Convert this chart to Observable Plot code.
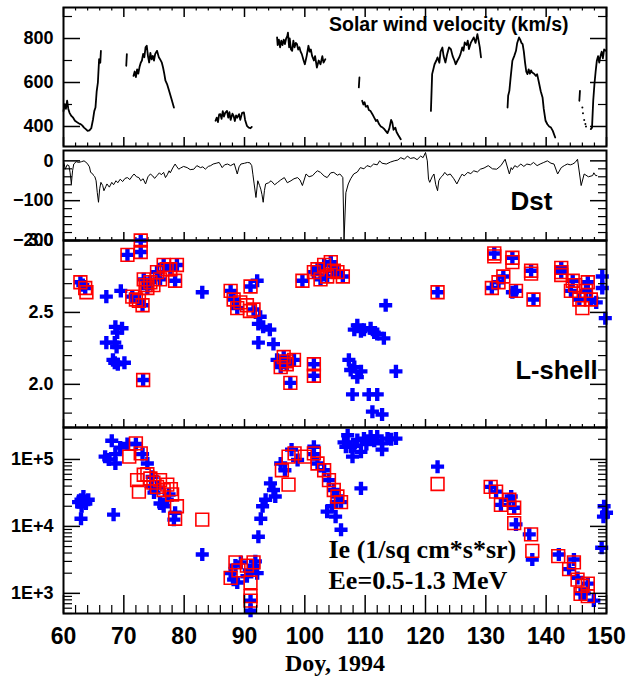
<!DOCTYPE html>
<html><head><meta charset="utf-8">
<script src="https://cdn.jsdelivr.net/npm/d3@7"></script>
<script src="https://cdn.jsdelivr.net/npm/@observablehq/plot@0.6"></script>
<style>
body{margin:0;background:#fff}
#chart{position:relative;width:627px;height:679px;background:#fff}
.panel{position:absolute;left:0}
</style>
</head><body><div id="chart"></div>
<script>
// ---------- data ----------
const xTickLabels = [60,70,80,90,100,110,120,130,140,150];

// Solar wind velocity (NaN = data gap)
const swDay = [60.0,60.2,60.4,60.6,60.8,61.0,61.3,61.6,61.9,62.2,62.5,62.8,63.1,63.4,63.7,64.0,64.3,64.6,64.9,65.1,65.3,65.5,65.7,65.9,66.1,66.2,
  66.3,
  70.4,70.5,
  70.6,
  71.6,71.8,72.0,72.2,72.4,72.6,72.8,73.0,73.2,73.4,73.6,73.8,74.0,74.2,74.4,74.6,74.8,75.0,75.2,75.5,75.8,76.0,76.3,76.5,76.7,76.9,77.2,77.5,77.9,78.3,
  78.4,
  85.2,85.4,85.6,85.8,86.0,86.2,86.4,86.6,86.8,87.1,87.3,87.5,87.7,88.0,88.2,88.4,88.6,88.8,89.1,89.3,89.6,89.9,90.1,90.4,90.7,91.0,91.2,
  91.3,
  95.4,95.5,95.7,95.9,96.1,96.3,96.5,96.7,96.9,97.1,97.2,97.4,97.5,97.7,97.9,98.1,98.3,98.5,98.7,98.9,99.1,99.3,99.5,99.8,100.0,100.3,100.6,100.8,101.0,101.2,101.5,101.7,102.0,102.3,102.6,102.9,103.1,103.4,
  103.5,
  108.95,109.05,
  109.1,
  109.5,109.7,109.9,110.1,110.4,110.6,110.9,111.2,111.5,111.8,112.0,112.3,112.6,112.9,113.1,113.4,113.7,114.0,114.3,114.5,114.7,115.0,115.2,115.5,115.9,
  116.0,
  120.9,121.1,121.3,121.5,121.8,122.0,122.3,122.5,122.8,123.0,123.3,123.6,123.9,124.2,124.5,124.8,125.0,125.3,125.6,125.8,126.1,126.3,126.5,126.8,127.0,127.2,127.5,127.8,128.0,128.3,128.6,128.8,129.0,129.2,
  129.3,
  133.6,133.7,133.9,134.1,134.4,134.7,135.0,135.2,135.5,135.7,135.9,136.1,136.3,136.5,136.7,136.9,137.1,137.3,137.5,137.7,138.0,138.3,138.5,138.8,139.1,139.4,139.6,139.9,140.2,140.5,140.8,141.1,141.5,
  141.6,
  145.5,145.6,
  145.7,
  147.4,147.6,147.8,148.0,148.2,148.4,148.6,148.8,149.0,149.2,149.4,149.6,149.9];
const swVel = [470,502,480,517,480,462,448,440,426,420,415,411,405,395,388,380,382,392,433,470,486,560,600,706,690,744,
  NaN,
  676,729,
  NaN,
  630,650,625,660,640,670,690,700,730,715,760,767,720,691,735,705,721,700,730,744,715,706,690,668,640,608,590,562,525,486,
  NaN,
  426,440,420,455,456,435,470,445,462,471,440,465,430,458,448,425,450,440,456,430,462,464,430,403,395,392,398,
  NaN,
  805,770,795,760,790,770,795,775,800,812,827,760,800,750,744,790,760,780,774,750,760,740,729,700,683,720,767,740,750,721,700,720,668,700,683,720,690,706,
  NaN,
  578,623,
  NaN,
  517,500,510,490,494,475,470,456,440,425,430,411,400,395,390,380,370,390,430,418,385,395,375,360,342,
  NaN,
  471,638,660,683,700,714,690,740,759,720,691,730,760,752,720,700,683,700,715,729,760,745,782,770,790,752,780,795,805,780,820,790,760,714,
  NaN,
  486,540,562,620,699,720,744,780,805,795,780,774,740,690,650,638,660,640,655,645,640,630,638,600,560,532,480,426,410,400,395,380,350,
  NaN,
  517,562,
  NaN,
  388,395,517,592,650,699,720,690,721,740,710,750,744];
// isolated velocity samples
const swDotDay = [146.0,146.1,146.3,146.5,146.6];
const swDotVel = [486,460,430,411,400];

// Dst index
const dstDay = [60.0,60.3,60.6,60.9,61.1,61.3,61.5,61.7,62.1,62.5,63.0,63.4,63.7,64.0,64.3,64.5,64.8,65.0,65.2,65.4,65.6,65.8,66.0,66.2,66.5,66.7,67.0,67.2,67.6,68.0,68.3,68.7,69.0,69.4,69.8,70.2,70.6,71.0,71.4,71.7,72.1,72.5,72.8,73.2,73.6,74.0,74.4,74.8,75.1,75.5,75.9,76.2,76.6,76.9,77.2,77.5,77.7,78.1,78.5,78.8,79.1,79.4,79.9,80.5,81.0,81.6,82.1,82.7,83.1,83.5,84.0,84.4,84.8,85.3,85.8,86.3,86.7,87.2,87.7,88.3,88.8,89.1,89.4,90.0,90.5,90.9,91.2,91.4,91.6,91.9,92.2,92.5,92.7,92.9,93.1,93.3,93.5,94.0,94.4,95.0,95.5,96.0,96.6,97.1,97.7,98.2,98.8,99.2,99.6,100.2,100.7,101.3,101.7,102.1,102.6,103.2,103.7,104.3,104.8,105.4,105.8,106.1,106.3,106.5,106.8,107.2,107.6,108.1,108.7,109.2,109.8,110.3,110.9,111.4,112.0,112.4,112.8,113.5,114.2,114.8,115.4,115.9,116.5,117.0,117.5,118.1,118.6,119.2,119.6,120.0,120.3,120.5,120.7,121.1,121.4,121.7,122.0,122.2,122.5,122.8,123.2,123.6,124.1,124.7,125.2,125.8,126.1,126.4,127.0,127.5,128.0,128.6,129.1,129.7,130.4,131.1,131.8,132.5,133.2,133.9,134.2,134.4,134.8,135.2,135.8,136.3,136.8,137.4,137.9,138.5,139.0,139.6,140.2,140.8,141.3,141.9,142.5,143.0,143.5,144.0,144.4,144.8,145.2,145.8,146.3,147.0,147.7,147.9,148.2,148.4,148.8,149.1,149.5,149.9];
const dstVal = [0,-21,-10,-12,-30,-58,-25,-8,-2,-4,-2,0,-3,-8,-15,-29,-32,-37,-40,-50,-80,-104,-70,-54,-62,-75,-65,-58,-66,-54,-60,-50,-55,-46,-52,-44,-42,-47,-38,-33,-40,-42,-50,-45,-58,-40,-33,-38,-44,-37,-30,-35,-29,-42,-35,-25,-30,-18,-8,-15,-21,-18,-14,-17,-22,-21,-12,-17,-15,-21,-14,-12,-8,-6,-4,-17,-10,-8,-12,-7,-33,-15,-8,-6,-4,-5,-12,-35,-58,-92,-50,-62,-71,-85,-104,-75,-58,-55,-50,-60,-54,-48,-42,-55,-50,-45,-42,-48,-62,-33,-40,-37,-30,-25,-29,-38,-42,-30,-29,-36,-33,-38,-42,-198,-80,-58,-45,-33,-28,-17,-20,-12,-15,-8,-10,0,-6,-8,-3,0,2,8,4,12,6,8,3,12,8,21,0,-46,-54,-40,-33,-60,-75,-50,-42,-38,-29,-36,-33,-45,-58,-40,-33,-38,-29,-32,-25,-28,-21,-18,-12,-20,-21,-12,4,-33,-17,-22,-12,-16,-8,-14,-8,-10,-4,-12,-8,-4,0,-6,-8,-33,-17,-12,-8,-10,-8,-4,4,-62,-33,-40,-37,-30,-37,-37];

// L-shell: blue = all samples, red = samples also in flux set
const lBlueDay = [62.8,63.2,63.6,67.1,69.5,68.6,69.7,68.9,67.1,68.5,68.8,68.2,68.5,70.1,69.0,73.2,70.6,72.8,72.8,71.4,72.5,73.1,73.3,74.4,75.5,76.6,77.7,78.8,78.5,73.9,76.0,83.0,87.7,88.2,88.8,91.0,92.1,91.5,92.6,92.3,93.1,94.2,92.3,94.8,95.4,96.5,97.0,98.2,97.6,96.0,99.6,101.5,101.5,101.5,102.1,103.2,104.3,105.4,106.3,102.6,104.8,103.7,113.4,108.7,109.8,110.9,112.0,113.1,108.2,109.3,111.5,107.3,108.2,109.3,108.7,107.6,115.1,107.9,110.6,112.0,111.2,112.8,122.0,131.4,134.4,132.9,131.0,132.1,135.0,137.5,137.9,142.5,142.5,144.4,144.1,146.9,146.6,145.5,147.4,149.3,149.3,149.8,148.3,134.4];
const lBlueVal = [2.71,2.69,2.67,2.61,2.65,2.40,2.39,2.36,2.29,2.29,2.26,2.17,2.15,2.15,2.14,2.03,2.90,3.00,2.92,2.61,2.58,2.55,2.73,2.71,2.78,2.83,2.80,2.83,2.72,2.67,2.73,2.64,2.65,2.59,2.53,2.68,2.72,2.52,2.47,2.42,2.40,2.38,2.29,2.28,2.17,2.19,2.14,2.17,2.01,2.12,2.72,2.14,2.06,2.78,2.80,2.83,2.85,2.78,2.75,2.73,2.79,2.75,2.55,2.41,2.38,2.39,2.35,2.32,2.38,2.37,2.36,2.17,2.12,2.09,2.05,2.10,2.09,1.93,1.93,1.93,1.81,1.79,2.64,2.91,2.88,2.75,2.67,2.71,2.65,2.79,2.59,2.81,2.78,2.72,2.65,2.71,2.65,2.59,2.59,2.75,2.67,2.46,2.57,2.64];
const lRedDay = [62.8,63.6,63.8,73.2,70.6,72.8,72.8,71.4,72.0,72.5,73.1,73.3,73.6,74.4,74.9,75.5,76.0,76.6,77.1,77.7,78.8,78.5,73.9,87.7,88.2,88.8,89.3,90.4,91.0,91.5,90.9,96.5,97.0,98.2,97.6,96.0,96.9,99.6,101.5,101.5,101.5,102.1,103.2,104.3,105.4,106.3,102.6,104.8,103.7,122.0,131.4,131.4,134.4,134.4,132.9,131.0,132.1,135.0,137.5,137.5,137.9,142.5,142.5,142.5,144.4,144.1,146.9,146.6,146.0,145.5,147.4,144.8];
const lRedVal = [2.71,2.67,2.64,2.03,2.90,3.00,2.92,2.61,2.59,2.58,2.55,2.73,2.69,2.71,2.69,2.78,2.73,2.83,2.80,2.80,2.83,2.72,2.67,2.65,2.59,2.53,2.57,2.55,2.68,2.52,2.51,2.19,2.14,2.17,2.01,2.12,2.16,2.72,2.14,2.06,2.78,2.80,2.83,2.85,2.78,2.75,2.73,2.79,2.75,2.64,2.91,2.89,2.88,2.85,2.75,2.67,2.71,2.65,2.79,2.77,2.59,2.81,2.78,2.76,2.72,2.65,2.71,2.65,2.53,2.59,2.59,2.69];

// Electron flux Ie
const ieBlueDay = [62.5,62.9,63.3,63.7,64.1,63.0,62.9,68.3,68.0,66.9,68.6,69.4,70.6,72.0,73.1,68.6,67.5,73.9,74.7,75.0,76.0,76.6,77.2,78.3,78.5,74.5,75.5,77.5,83.0,92.7,92.3,93.5,94.3,95.1,96.0,96.7,97.8,98.8,101.5,93.0,94.8,87.7,88.2,88.8,89.4,90.4,91.5,92.1,91.0,91.0,88.5,90.8,91.8,101.5,102.1,103.2,104.0,104.8,105.4,106.0,105.1,106.0,103.7,104.5,106.5,107.6,108.7,109.8,110.9,112.0,112.8,113.7,115.1,107.9,109.3,112.8,107.1,106.8,108.2,110.2,111.5,114.3,109.3,122.0,130.8,131.7,132.5,134.2,135.0,137.2,137.7,142.1,144.6,145.2,146.3,147.9,149.6,150.0,149.2,149.5,133.9,134.7,143.8,146.9,145.7];
const ieBlueVal = [2.3e4,2.5e4,2.8e4,2.2e4,2.5e4,2.0e4,1.3e4,1.5e4,1.9e5,1.1e5,1.2e5,1.5e5,1.7e5,1.7e5,1.2e5,8.7e4,1.0e5,8.7e4,5.5e4,3.2e4,2.2e4,2.0e4,2.5e4,1.26e4,1.6e4,4.0e4,3.8e4,3.0e4,3.8e3,1.3e4,7.0e3,2.5e4,4.4e4,2.8e4,8.7e4,6.9e4,1.4e5,9.8e4,1.55e5,2.0e4,3.5e4,2.0e3,1.6e3,1.45e3,2.9e3,1.8e3,2.6e3,2.0e3,7.8e2,5.5e2,2.6e3,2.2e3,3.0e3,1.2e5,8.7e4,6.9e4,4.9e4,3.5e4,2.8e4,2.3e4,1.4e4,8.9e3,1.66e4,2.0e4,1.8e5,1.55e5,1.95e5,2.05e5,2.2e5,2.2e5,1.74e5,2.05e5,2.05e5,1.1e5,1.3e5,1.4e5,2.3e5,1.55e5,1.6e5,1.7e5,1.9e5,2.0e5,3.7e4,7.8e4,3.9e4,3.3e4,2.1e4,2.8e4,1.07e4,7.6e3,3.2e3,3.8e3,3.2e3,1.7e3,1.0e3,7.8e2,2.0e4,1.6e4,4.8e3,1.4e4,2.5e4,1.9e4,2.3e3,1.4e3,1.0e3];
const ieRedDay = [70.9,72.0,72.8,72.2,72.5,73.3,74.4,75.5,76.0,76.6,77.2,78.0,78.5,78.8,83.0,87.7,88.5,90.4,91.5,91.0,91.0,91.0,89.0,96.2,97.3,97.3,98.3,100.0,101.5,102.1,103.2,104.0,104.8,105.4,106.0,122.0,130.8,131.7,132.5,133.9,134.7,134.7,137.5,137.7,142.0,143.8,144.6,145.2,146.0,146.9,145.7,146.9,73.9,74.9,77.8];
const ieRedVal = [1.1e5,1.74e5,1.23e5,4.9e4,3.3e4,5.9e4,5.2e4,3.9e4,4.9e4,3.5e4,4.2e4,3.0e4,1.3e4,2.0e4,1.26e4,1.7e3,2.9e3,2.6e3,2.9e3,1.45e3,9.1e2,7.8e2,2.2e3,6.9e4,4.2e4,1.1e5,1.23e5,1.1e5,1.23e5,8.7e4,6.9e4,4.9e4,3.5e4,2.8e4,2.3e4,4.3e4,3.9e4,3.3e4,2.1e4,2.5e4,1.9e4,1.12e4,7.6e3,4.3e3,3.6e3,2.3e3,2.9e3,1.6e3,1.3e3,1.4e3,9.8e2,9.1e2,6.0e4,4.5e4,3.6e4];

// ---------- layout helpers ----------
const W = 543, ML = 63, MR = 21;
const SANS = "'Liberation Sans', Arial, Helvetica, sans-serif";
const SERIF = "'Liberation Serif', 'Times New Roman', serif";
const pts = (xs, ys) => xs.map((x, i) => ({x, y: ys[i]}));
const xMajor = xTickLabels;
const xMinor = d3.range(60, 151, 2).filter(d => d % 10 !== 0);

function xTickRules(H, bottomMaj, bottomMin, topMaj, topMin) {
  const m = [
    Plot.ruleX(xMajor, {x: d => d, insetTop: H - bottomMaj, strokeWidth: 1.5}),
    Plot.ruleX(xMinor, {x: d => d, insetTop: H - bottomMin, strokeWidth: 1.2})
  ];
  if (topMaj) {
    m.push(Plot.ruleX(xMajor, {x: d => d, insetBottom: H - topMaj, strokeWidth: 1.5}));
    m.push(Plot.ruleX(xMinor, {x: d => d, insetBottom: H - topMin, strokeWidth: 1.2}));
  }
  return m;
}
function yTickRules(major, minor) {
  return [
    Plot.ruleY(major, {y: d => d, insetRight: W - 17, strokeWidth: 1.5}),
    Plot.ruleY(minor, {y: d => d, insetRight: W - 9, strokeWidth: 1.2}),
    Plot.ruleY(major, {y: d => d, insetLeft: W - 16, strokeWidth: 1.5}),
    Plot.ruleY(minor, {y: d => d, insetLeft: W - 8, strokeWidth: 1.2})
  ];
}
function yLabels(ticks, fmt) {
  return Plot.axisY({ticks, tickSize: 0, tickPadding: 10, fontSize: 18, fontWeight: "bold",
    tickFormat: fmt, label: null, fontFamily: SANS});
}
function note(text, dx, dy, size, family, anchor = "start") {
  return Plot.text([text], {frameAnchor: "top-left", dx, dy, text: d => d, fontSize: size,
    fontWeight: "bold", fontFamily: family, textAnchor: anchor, lineAnchor: "middle", fill: "black"});
}

const chart = document.getElementById("chart");
function addPanel(top, H, y, marks, marginBottom = 0) {
  const svg = Plot.plot({
    width: 627, height: H + marginBottom, marginLeft: ML, marginRight: MR, marginTop: 0, marginBottom,
    x: {domain: [60, 150], axis: null},
    y: {...y, axis: null},
    style: {overflow: "visible", background: "transparent", fontFamily: SANS, color: "black"},
    marks
  });
  const div = document.createElement("div");
  div.className = "panel";
  div.style.top = top + "px";
  div.appendChild(svg);
  chart.appendChild(div);
}

// ---------- Panel 1: solar wind velocity ----------
addPanel(7, 139, {domain: [309, 941]}, [
  Plot.line(pts(swDay, swVel), {x: "x", y: "y", stroke: "black", strokeWidth: 1.8}),
  Plot.dot(pts(swDotDay, swDotVel), {x: "x", y: "y", r: 1, fill: "black"}),
  ...yTickRules([400, 600, 800], [500, 700, 900]),
  ...xTickRules(139, 9, 3.5, 10, 3.5),
  yLabels([400, 600, 800], d3.format("d")),
  note("Solar wind velocity (km/s)", 505, 17.5, 19.5, SANS, "end"),
  Plot.frame({stroke: "black", strokeWidth: 2})
]);

// ---------- Panel 2: Dst ----------
addPanel(150, 90, {domain: [-200, 26]}, [
  Plot.line(pts(dstDay, dstVal), {x: "x", y: "y", stroke: "black", strokeWidth: 1}),
  ...yTickRules([0, -100, -200], d3.range(-180, 20, 20).filter(d => d % 100 !== 0)),
  ...xTickRules(90, 8, 3),
  yLabels([0, -100, -200], d3.format("d")),
  note("Dst", 468, 51, 26, SANS, "middle"),
  Plot.frame({stroke: "black", strokeWidth: 2})
]);

// ---------- Panel 3: L-shell ----------
addPanel(240, 187, {domain: [1.7, 3.0]}, [
  Plot.dot(pts(lBlueDay, lBlueVal), {x: "x", y: "y", symbol: "cross", r: 5.5, fill: "#0000ff"}),
  Plot.dot(pts(lRedDay, lRedVal), {x: "x", y: "y", symbol: "square", r: 7.2, fill: "none", stroke: "#ff0000", strokeWidth: 1.6}),
  ...yTickRules([2.0, 2.5, 3.0], [1.8, 1.9, 2.1, 2.2, 2.3, 2.4, 2.6, 2.7, 2.8, 2.9]),
  ...xTickRules(187, 8, 3),
  yLabels([2.0, 2.5, 3.0], d3.format(".1f")),
  note("L-shell", 452, 130, 25.5, SANS),
  Plot.frame({stroke: "black", strokeWidth: 2})
]);

// ---------- Panel 4: electron flux ----------
const logMinor = [];
[100, 1000, 10000, 100000].forEach(b => [2,3,4,5,6,7,8,9].forEach(k => {
  const v = b * k; if (v >= 500 && v <= 3e5) logMinor.push(v);
}));
addPanel(427, 186, {type: "log", domain: [500, 3e5]}, [
  Plot.dot(pts(ieBlueDay, ieBlueVal), {x: "x", y: "y", symbol: "cross", r: 5.5, fill: "#0000ff"}),
  Plot.dot(pts(ieRedDay, ieRedVal), {x: "x", y: "y", symbol: "square", r: 7.2, fill: "none", stroke: "#ff0000", strokeWidth: 1.6}),
  ...yTickRules([1e3, 1e4, 1e5], logMinor),
  ...xTickRules(186, 18, 8),
  yLabels([1e3, 1e4, 1e5], d => "1E+" + Math.round(Math.log10(d))),
  Plot.axisX({ticks: xMajor, tickSize: 0, tickPadding: 14, fontSize: 23, fontWeight: "bold",
    label: null, fontFamily: SANS}),
  note("Ie (1/sq cm*s*sr)", 265, 122, 26, SERIF),
  note("Ee=0.5-1.3 MeV", 265, 153, 26, SERIF),
  Plot.text(["Doy, 1994"], {frameAnchor: "bottom", dy: 50, text: d => d, fontSize: 24, fontWeight: "bold",
    fontFamily: SERIF, lineAnchor: "middle", fill: "black"}),
  Plot.frame({stroke: "black", strokeWidth: 2})
], 66);
</script></body></html>
